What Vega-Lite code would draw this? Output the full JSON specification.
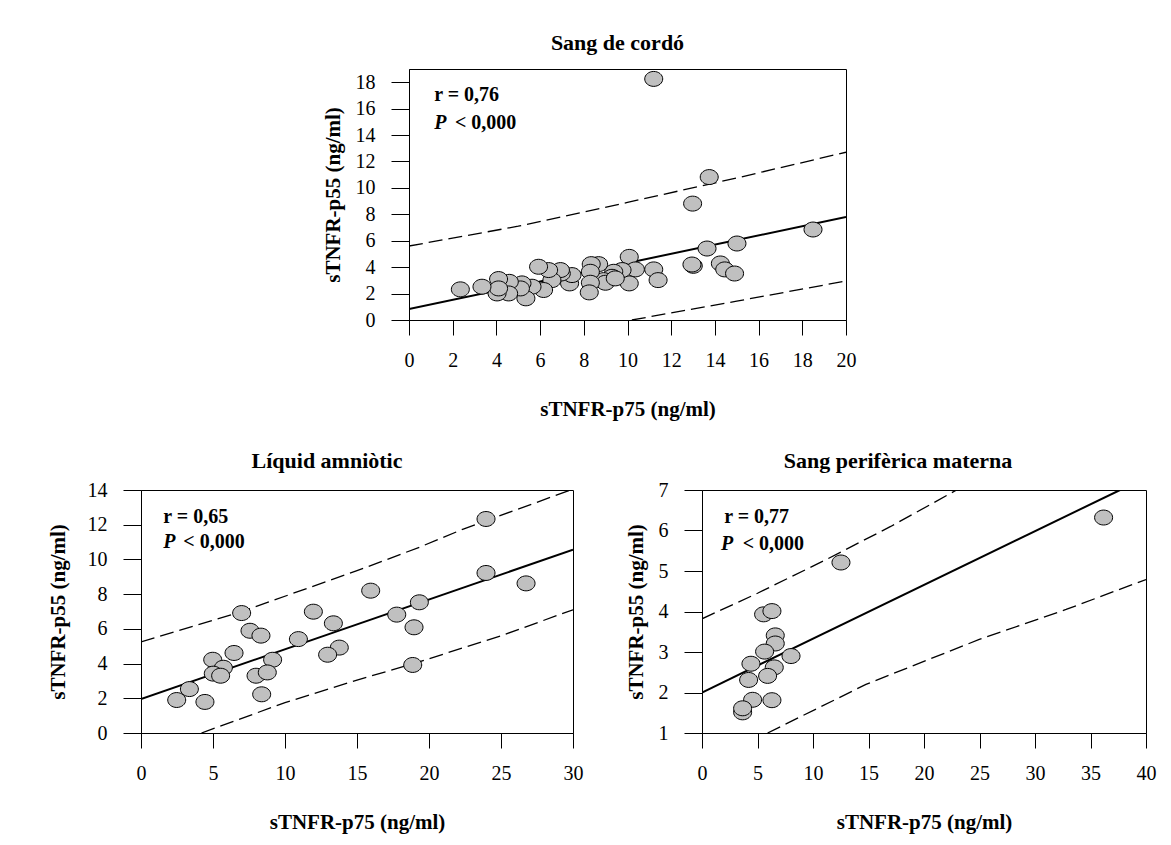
{
  "$schema": "https://vega.github.io/schema/vega-lite/v6.json",
  "background": "white",
  "padding": {"left": 46, "top": 31, "right": 5, "bottom": 5},
  "config": {
    "font": "Liberation Serif",
    "view": {"stroke": "black", "strokeWidth": 1},
    "axis": {"labelFont": "Liberation Serif", "labelFontSize": 20, "labelColor": "black", "titleFont": "Liberation Serif", "titleFontSize": 21, "titleFontWeight": "bold", "titleColor": "black", "domainColor": "black", "tickColor": "black", "grid": false, "labelFlush": false, "labelOverlap": false},
    "axisX": {"tickSize": 15, "labelPadding": 15, "titlePadding": 28},
    "axisY": {"tickSize": 18, "labelPadding": 16, "titlePadding": 12},
    "title": {"font": "Liberation Serif", "fontSize": 22, "fontWeight": "bold", "color": "black", "offset": 14},
    "text": {"font": "Liberation Serif", "fontSize": 20, "fontWeight": "bold", "color": "black", "align": "left", "baseline": "middle"}
  },
  "datasets": {
    "cord": [
      {"x": 11.2, "y": 18.25}, {"x": 13.74, "y": 10.82}, {"x": 12.98, "y": 8.81}, {"x": 18.49, "y": 6.85},
      {"x": 15.01, "y": 5.79}, {"x": 13.64, "y": 5.41}, {"x": 10.08, "y": 4.78}, {"x": 13.01, "y": 4.1},
      {"x": 12.95, "y": 4.2}, {"x": 14.25, "y": 4.28}, {"x": 14.45, "y": 3.83}, {"x": 14.9, "y": 3.52},
      {"x": 11.2, "y": 3.83}, {"x": 11.4, "y": 3.02}, {"x": 10.36, "y": 3.83}, {"x": 10.08, "y": 2.77},
      {"x": 9.75, "y": 3.78}, {"x": 9.37, "y": 3.65}, {"x": 9.29, "y": 3.27}, {"x": 8.91, "y": 3.02},
      {"x": 8.99, "y": 2.82}, {"x": 9.44, "y": 3.15},
      {"x": 8.68, "y": 4.23}, {"x": 8.34, "y": 4.23}, {"x": 8.3, "y": 3.65}, {"x": 8.3, "y": 2.82},
      {"x": 8.25, "y": 2.09}, {"x": 7.35, "y": 2.77}, {"x": 7.46, "y": 3.4}, {"x": 6.97, "y": 3.52},
      {"x": 6.93, "y": 3.78}, {"x": 6.54, "y": 3.02}, {"x": 6.39, "y": 3.78}, {"x": 5.93, "y": 4.03},
      {"x": 6.16, "y": 2.27}, {"x": 5.63, "y": 2.52}, {"x": 5.35, "y": 1.64}, {"x": 5.17, "y": 2.77},
      {"x": 5.1, "y": 2.39}, {"x": 4.59, "y": 2.89}, {"x": 4.56, "y": 2.01}, {"x": 4.1, "y": 3.1},
      {"x": 4.03, "y": 2.01}, {"x": 4.1, "y": 2.39}, {"x": 3.34, "y": 2.52}, {"x": 2.35, "y": 2.32}
    ],
    "cordFit": [{"x": 0, "y": 0.83}, {"x": 20, "y": 7.8}],
    "cordUp": [{"x": 0, "y": 5.6}, {"x": 5, "y": 7.1}, {"x": 10, "y": 8.9}, {"x": 15, "y": 10.75}, {"x": 20, "y": 12.7}],
    "cordLo": [{"x": 10.2, "y": 0}, {"x": 15, "y": 1.43}, {"x": 20, "y": 2.95}],
    "cordR": [{"x": 1.15, "y": 17.0, "t": "r = 0,76"}],
    "cordP": [{"x": 1.15, "y": 14.95, "t": "P"}],
    "cordPv": [{"x": 2.1, "y": 14.95, "t": "< 0,000"}],
    "amn": [
      {"x": 23.96, "y": 12.33}, {"x": 23.96, "y": 9.22}, {"x": 26.74, "y": 8.62}, {"x": 15.95, "y": 8.2},
      {"x": 19.33, "y": 7.53}, {"x": 17.76, "y": 6.82}, {"x": 18.96, "y": 6.09}, {"x": 11.97, "y": 6.99},
      {"x": 13.36, "y": 6.32}, {"x": 6.99, "y": 6.91}, {"x": 7.57, "y": 5.89}, {"x": 8.33, "y": 5.61},
      {"x": 10.93, "y": 5.41}, {"x": 13.77, "y": 4.92}, {"x": 12.96, "y": 4.51}, {"x": 6.46, "y": 4.61},
      {"x": 4.98, "y": 4.22}, {"x": 9.14, "y": 4.22}, {"x": 5.72, "y": 3.76}, {"x": 5.02, "y": 3.42},
      {"x": 5.53, "y": 3.3}, {"x": 7.99, "y": 3.3}, {"x": 8.77, "y": 3.49}, {"x": 18.87, "y": 3.92},
      {"x": 3.36, "y": 2.53}, {"x": 2.48, "y": 1.9}, {"x": 4.44, "y": 1.79}, {"x": 8.38, "y": 2.23}
    ],
    "amnFit": [{"x": 0, "y": 1.96}, {"x": 30, "y": 10.56}],
    "amnUp": [{"x": 0, "y": 5.25}, {"x": 7, "y": 7.0}, {"x": 15, "y": 9.35}, {"x": 19.33, "y": 10.7}, {"x": 22.38, "y": 11.75}, {"x": 30, "y": 14.05}],
    "amnLo": [{"x": 4.2, "y": 0}, {"x": 10, "y": 1.75}, {"x": 15, "y": 3.05}, {"x": 18.87, "y": 3.98}, {"x": 25, "y": 5.6}, {"x": 30, "y": 7.1}],
    "amnR": [{"x": 1.55, "y": 12.42, "t": "r = 0,65"}],
    "amnP": [{"x": 1.55, "y": 10.98, "t": "P"}],
    "amnPv": [{"x": 2.94, "y": 10.98, "t": "< 0,000"}],
    "mat": [
      {"x": 36.18, "y": 6.32}, {"x": 12.52, "y": 5.21}, {"x": 5.55, "y": 3.93}, {"x": 6.3, "y": 4.01},
      {"x": 6.6, "y": 3.41}, {"x": 6.6, "y": 3.21}, {"x": 5.64, "y": 3.01}, {"x": 8.02, "y": 2.9},
      {"x": 4.41, "y": 2.71}, {"x": 6.51, "y": 2.62}, {"x": 5.91, "y": 2.41}, {"x": 4.2, "y": 2.31},
      {"x": 4.56, "y": 1.82}, {"x": 6.3, "y": 1.81}, {"x": 3.66, "y": 1.51}, {"x": 3.66, "y": 1.61}
    ],
    "matFit": [{"x": 0, "y": 2.0}, {"x": 37.66, "y": 7}],
    "matUp": [{"x": 0, "y": 3.82}, {"x": 5, "y": 4.45}, {"x": 11.17, "y": 5.28}, {"x": 17, "y": 6.1}, {"x": 22.94, "y": 7.0}],
    "matLo": [{"x": 5.91, "y": 1}, {"x": 14.77, "y": 2.2}, {"x": 24.98, "y": 3.31}, {"x": 32.8, "y": 4.05}, {"x": 40, "y": 4.79}],
    "matR": [{"x": 2.0, "y": 6.34, "t": "r = 0,77"}],
    "matP": [{"x": 1.71, "y": 5.67, "t": "P"}],
    "matPv": [{"x": 3.66, "y": 5.67, "t": "< 0,000"}]
  },
  "vconcat": [
    {
      "spacing": 0,
      "hconcat": [
        {"width": 180, "height": 10, "view": {"stroke": null}, "data": {"values": []}, "mark": "point", "encoding": {}},
        {
          "width": 437, "height": 251,
          "title": {"text": "Sang de cordó", "dx": -10},
          "encoding": {
            "x": {"field": "x", "type": "quantitative", "scale": {"domain": [0, 20], "nice": false}, "axis": {"title": "sTNFR-p75 (ng/ml)", "values": [0,2,4,6,8,10,12,14,16,18,20]}},
            "y": {"field": "y", "type": "quantitative", "scale": {"domain": [0, 19], "nice": false}, "axis": {"title": "sTNFR-p55 (ng/ml)", "values": [0,2,4,6,8,10,12,14,16,18]}}
          },
          "layer": [
            {"data": {"name": "cordUp"}, "mark": {"type": "line", "color": "black", "strokeWidth": 1.3, "strokeDash": [14, 6], "clip": true}},
            {"data": {"name": "cordLo"}, "mark": {"type": "line", "color": "black", "strokeWidth": 1.3, "strokeDash": [14, 6], "clip": true}},
            {"data": {"name": "cordFit"}, "mark": {"type": "line", "color": "black", "strokeWidth": 2, "clip": true}},
            {"data": {"name": "cord"}, "mark": {"type": "point", "shape": "M-1,0A1,0.83,0,1,1,1,0A1,0.83,0,1,1,-1,0Z", "size": 324, "filled": true, "fill": "#c0c0c0", "stroke": "black", "strokeWidth": 1, "opacity": 1}},
            {"data": {"name": "cordR"}, "mark": {"type": "text"}, "encoding": {"text": {"field": "t"}}},
            {"data": {"name": "cordP"}, "mark": {"type": "text", "fontStyle": "italic"}, "encoding": {"text": {"field": "t"}}},
            {"data": {"name": "cordPv"}, "mark": {"type": "text"}, "encoding": {"text": {"field": "t"}}}
          ]
        }
      ]
    },
    {
      "spacing": 40,
      "hconcat": [
        {
          "width": 432, "height": 243,
          "title": {"text": "Líquid amniòtic", "dx": -30, "offset": 7},
          "encoding": {
            "x": {"field": "x", "type": "quantitative", "scale": {"domain": [0, 30], "nice": false}, "axis": {"title": "sTNFR-p75 (ng/ml)", "values": [0,5,10,15,20,25,30]}},
            "y": {"field": "y", "type": "quantitative", "scale": {"domain": [0, 14], "nice": false}, "axis": {"title": "sTNFR-p55 (ng/ml)", "titlePadding": 19, "values": [0,2,4,6,8,10,12,14]}}
          },
          "layer": [
            {"data": {"name": "amnUp"}, "mark": {"type": "line", "color": "black", "strokeWidth": 1.3, "strokeDash": [14, 6], "clip": true}},
            {"data": {"name": "amnLo"}, "mark": {"type": "line", "color": "black", "strokeWidth": 1.3, "strokeDash": [14, 6], "clip": true}},
            {"data": {"name": "amnFit"}, "mark": {"type": "line", "color": "black", "strokeWidth": 2, "clip": true}},
            {"data": {"name": "amn"}, "mark": {"type": "point", "shape": "M-1,0A1,0.83,0,1,1,1,0A1,0.83,0,1,1,-1,0Z", "size": 324, "filled": true, "fill": "#c0c0c0", "stroke": "black", "strokeWidth": 1, "opacity": 1}},
            {"data": {"name": "amnR"}, "mark": {"type": "text"}, "encoding": {"text": {"field": "t"}}},
            {"data": {"name": "amnP"}, "mark": {"type": "text", "fontStyle": "italic"}, "encoding": {"text": {"field": "t"}}},
            {"data": {"name": "amnPv"}, "mark": {"type": "text"}, "encoding": {"text": {"field": "t"}}}
          ]
        },
        {
          "width": 444, "height": 243,
          "title": {"text": "Sang perifèrica materna", "dx": -26, "offset": 7},
          "encoding": {
            "x": {"field": "x", "type": "quantitative", "scale": {"domain": [0, 40], "nice": false}, "axis": {"title": "sTNFR-p75 (ng/ml)", "values": [0,5,10,15,20,25,30,35,40]}},
            "y": {"field": "y", "type": "quantitative", "scale": {"domain": [1, 7], "nice": false, "zero": false}, "axis": {"title": "sTNFR-p55 (ng/ml)", "values": [1,2,3,4,5,6,7]}}
          },
          "layer": [
            {"data": {"name": "matUp"}, "mark": {"type": "line", "color": "black", "strokeWidth": 1.3, "strokeDash": [14, 6], "clip": true}},
            {"data": {"name": "matLo"}, "mark": {"type": "line", "color": "black", "strokeWidth": 1.3, "strokeDash": [14, 6], "clip": true}},
            {"data": {"name": "matFit"}, "mark": {"type": "line", "color": "black", "strokeWidth": 2, "clip": true}},
            {"data": {"name": "mat"}, "mark": {"type": "point", "shape": "M-1,0A1,0.83,0,1,1,1,0A1,0.83,0,1,1,-1,0Z", "size": 324, "filled": true, "fill": "#c0c0c0", "stroke": "black", "strokeWidth": 1, "opacity": 1}},
            {"data": {"name": "matR"}, "mark": {"type": "text"}, "encoding": {"text": {"field": "t"}}},
            {"data": {"name": "matP"}, "mark": {"type": "text", "fontStyle": "italic"}, "encoding": {"text": {"field": "t"}}},
            {"data": {"name": "matPv"}, "mark": {"type": "text"}, "encoding": {"text": {"field": "t"}}}
          ]
        }
      ]
    }
  ],
  "spacing": 29
}
